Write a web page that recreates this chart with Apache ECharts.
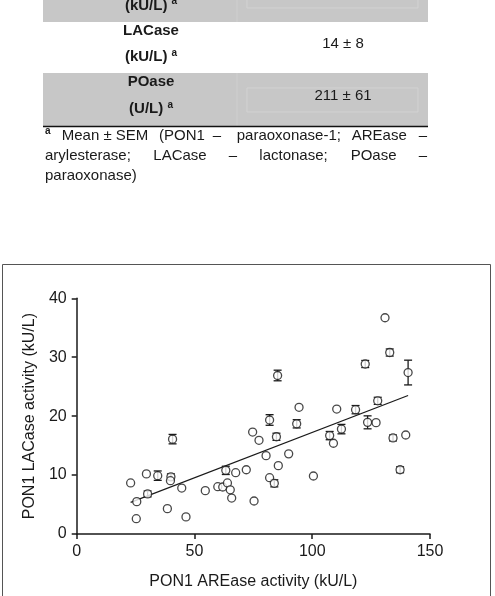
<!DOCTYPE html>
<html>
<head>
<meta charset="utf-8">
<script src="https://cdn.jsdelivr.net/npm/echarts@6/dist/echarts.min.js"></script>
<style>
  html, body { margin: 0; padding: 0; background: #fff; }
  #chart { width: 495px; height: 596px; }
</style>
</head>
<body>
<div id="chart"></div>
<script>
// AREase activity (kU/L) per subject
const areX = [22.9, 25.5, 25.3, 29.6, 30.1, 34.4, 38.5, 40.0, 39.8, 40.7,
  44.6, 46.4, 54.6, 59.9, 62.0, 63.3, 64.0, 65.2, 65.8, 67.5,
  72.0, 74.7, 75.3, 77.4, 80.4, 81.9, 81.9, 83.9, 84.8, 85.3,
  85.6, 90.0, 93.4, 94.4, 100.5, 107.4, 109.0, 110.4, 112.4, 118.4,
  122.5, 123.5, 127.1, 127.8, 130.9, 132.9, 134.3, 137.3, 139.7, 140.7]
// LACase activity (kU/L)
const lacY = [8.66, 5.49, 2.6, 10.2, 6.8, 9.9, 4.3, 9.7, 9.05, 16.1,
  7.8, 2.9, 7.36, 8.03, 7.98, 10.8, 8.66, 7.5, 6.1, 10.4,
  10.9, 17.3, 5.6, 15.9, 13.3, 19.35, 9.56, 8.6, 16.5, 26.9,
  11.6, 13.6, 18.7, 21.5, 9.84, 16.7, 15.4, 21.2, 17.8, 21.1,
  28.85, 18.95, 18.9, 22.6, 36.7, 30.8, 16.3, 10.9, 16.8, 27.4]
// SEM of LACase, 0 where no bar is visible
const lacErr = [0, 0, 0, 0, 0.5, 0.8, 0, 0.5, 0, 0.8,
  0, 0, 0, 0, 0, 0.7, 0, 0, 0, 0,
  0, 0, 0, 0, 0, 0.9, 0, 0.6, 0.6, 0.9,
  0, 0, 0.7, 0, 0, 0.7, 0, 0, 0.8, 0.7,
  0.6, 1.1, 0, 0.6, 0, 0.6, 0.5, 0.5, 0, 2.1]
// regression line end points
const fitX = [22.9, 140.7]
const fitY = [5.37, 23.5]

const xTicks = [0, 50, 100, 150]
const yTicks = [0, 10, 20, 30, 40]

// table fragment above the figure
const tableRows = [
  { label: 'LACase', unit: '(kU/L)', value: '14 ± 8' },
  { label: 'POase', unit: '(U/L)', value: '211 ± 61' }
]
const footLine1 = ['Mean ± SEM', '(PON1', '–', 'paraoxonase-1;', 'AREase', '–']
const footLine2 = ['arylesterase;', 'LACase', '–', 'lactonase;', 'POase', '–']
const footLine3 = ['paraoxonase)']

const font = 'Liberation Sans, Arial, sans-serif'
const ink = '#1a1a1a'
const gray = '#c7c7c7'

const points = areX.map((x, i) => [x, lacY[i]])
const bars = areX.map((x, i) => [x, lacY[i], lacErr[i]]).filter(d => d[2] > 0)

function text (x, y, str, opts) {
  return {
    type: 'text',
    x: x,
    y: y,
    z: 10,
    style: Object.assign({
      text: str,
      font: '15px ' + font,
      fill: ink,
      textAlign: 'left',
      textVerticalAlign: 'middle'
    }, opts || {})
  }
}

const unitRich = {
  b: { font: 'bold 15px ' + font, fill: ink },
  s: { font: 'bold 10px ' + font, fill: ink, padding: [0, 0, 8, 0] }
}

function unitText (x, y, unit) {
  return text(x, y, '{b|' + unit + '} {s|a}', { textAlign: 'center', rich: unitRich })
}

const graphic = [
  // gray row cut at the top
  { type: 'rect', shape: { x: 43, y: 0, width: 385, height: 22 }, style: { fill: gray } },
  { type: 'rect', shape: { x: 247, y: -4, width: 171, height: 12 }, style: { fill: 'none', stroke: '#d2d2d2', lineWidth: 1 } },
  { type: 'line', shape: { x1: 237, y1: 0, x2: 237, y2: 22 }, style: { stroke: '#cfcfcf', lineWidth: 1 } },
  unitText(151, 5.5, '(kU/L)'),
  // LACase row
  text(151, 31, tableRows[0].label, { textAlign: 'center', font: 'bold 15px ' + font }),
  unitText(151, 57, tableRows[0].unit),
  text(343, 44, tableRows[0].value, { textAlign: 'center' }),
  // POase row
  { type: 'rect', shape: { x: 43, y: 73, width: 385, height: 53 }, style: { fill: gray } },
  { type: 'rect', shape: { x: 247, y: 88, width: 171, height: 24 }, style: { fill: 'none', stroke: '#d2d2d2', lineWidth: 1 } },
  { type: 'line', shape: { x1: 237, y1: 73, x2: 237, y2: 126 }, style: { stroke: '#cfcfcf', lineWidth: 1 } },
  text(151, 82, tableRows[1].label, { textAlign: 'center', font: 'bold 15px ' + font }),
  unitText(151, 109, tableRows[1].unit),
  text(343, 96, tableRows[1].value, { textAlign: 'center' }),
  { type: 'line', shape: { x1: 43, y1: 126.5, x2: 428, y2: 126.5 }, style: { stroke: '#111', lineWidth: 1.5 } },
  // footnote, justified by hand
  text(45, 131, 'a', { font: 'bold 10px ' + font }),
  text(61.7, 136, footLine1[0]),
  text(159, 136, footLine1[1]),
  text(217, 136, footLine1[2], { textAlign: 'center' }),
  text(236.7, 136, footLine1[3]),
  text(351.7, 136, footLine1[4]),
  text(427, 136, footLine1[5], { textAlign: 'right' }),
  text(45, 156, footLine2[0]),
  text(153.3, 156, footLine2[1]),
  text(233, 156, footLine2[2], { textAlign: 'center' }),
  text(259.3, 156, footLine2[3]),
  text(350.7, 156, footLine2[4]),
  text(427, 156, footLine2[5], { textAlign: 'right' }),
  text(45, 176, footLine3[0]),
  // figure frame
  { type: 'rect', shape: { x: 2.5, y: 264.5, width: 488, height: 340 }, style: { fill: 'none', stroke: '#555', lineWidth: 1 } }
]

const chart = echarts.init(document.getElementById('chart'), null, { renderer: 'canvas' })

chart.setOption({
  animation: false,
  backgroundColor: '#fff',
  graphic: graphic,
  grid: { left: 76.7, right: 65, top: 298.3, bottom: 62 },
  xAxis: {
    type: 'value',
    min: xTicks[0],
    max: xTicks[xTicks.length - 1],
    interval: 50,
    name: 'PON1 AREase activity (kU/L)',
    nameLocation: 'middle',
    nameGap: 40,
    nameTextStyle: { fontFamily: font, fontSize: 16, color: ink },
    splitLine: { show: false },
    axisLine: { lineStyle: { color: ink, width: 1.5 } },
    axisTick: { length: 5, lineStyle: { color: ink, width: 1.5 } },
    axisLabel: { margin: 10, fontFamily: font, fontSize: 16, color: ink }
  },
  yAxis: {
    type: 'value',
    min: yTicks[0],
    max: yTicks[yTicks.length - 1],
    interval: 10,
    name: 'PON1 LACase activity (kU/L)',
    nameLocation: 'middle',
    nameGap: 39,
    nameTextStyle: { fontFamily: font, fontSize: 16, color: ink },
    splitLine: { show: false },
    axisLine: { show: true, lineStyle: { color: ink, width: 1.5 } },
    axisTick: { show: true, length: 5, lineStyle: { color: ink, width: 1.5 } },
    axisLabel: { margin: 10, fontFamily: font, fontSize: 16, color: ink }
  },
  series: [
    {
      type: 'line',
      data: fitX.map((x, i) => [x, fitY[i]]),
      symbol: 'none',
      lineStyle: { color: ink, width: 1.2 },
      z: 1
    },
    {
      type: 'custom',
      data: bars,
      z: 2,
      renderItem: function (params, api) {
        const x = api.value(0)
        const y = api.value(1)
        const e = api.value(2)
        const top = api.coord([x, y + e])
        const bot = api.coord([x, y - e])
        const w = 4
        const style = { stroke: ink, lineWidth: 1.3 }
        return {
          type: 'group',
          children: [
            { type: 'line', shape: { x1: top[0], y1: top[1], x2: bot[0], y2: bot[1] }, style: style },
            { type: 'line', shape: { x1: top[0] - w, y1: top[1], x2: top[0] + w, y2: top[1] }, style: style },
            { type: 'line', shape: { x1: bot[0] - w, y1: bot[1], x2: bot[0] + w, y2: bot[1] }, style: style }
          ]
        }
      }
    },
    {
      type: 'scatter',
      data: points,
      symbol: 'circle',
      symbolSize: 8,
      itemStyle: { color: '#fff', borderColor: ink, borderWidth: 1.3 },
      z: 3
    }
  ]
})
</script>
</body>
</html>
